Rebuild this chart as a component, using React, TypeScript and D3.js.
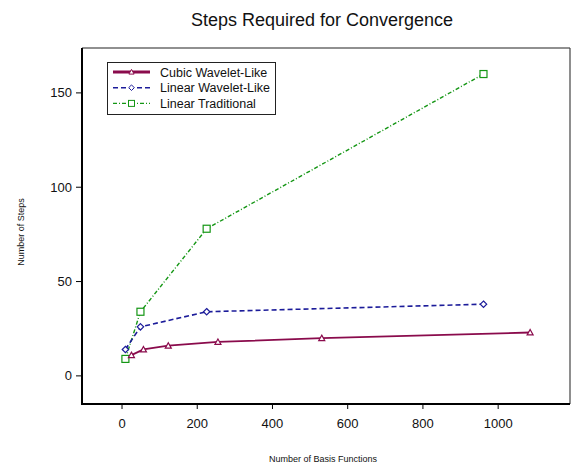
import React from "react";
import * as d3 from "d3";

const cubicX = [25, 57, 123, 255, 531, 1085];
const cubicY = [11, 14, 16, 18, 20, 23];
const linWX = [9, 49, 225, 961];
const linWY = [14, 26, 34, 38];
const tradX = [9, 49, 225, 961];
const tradY = [9, 34, 78, 160];
const xTicks = [0, 200, 400, 600, 800, 1000];
const yTicks = [0, 50, 100, 150];
const seriesNames = ["Cubic Wavelet-Like", "Linear Wavelet-Like", "Linear Traditional"];

const W = 573, H = 466;
const L = 82, R = 570, T = 48, B = 404;

export default function App() {
  const x = d3.scaleLinear().domain([-106.4, 1191]).range([L, R]);
  const y = d3.scaleLinear().domain([-14.9, 173.8]).range([B, T]);
  const line = d3.line<[number, number]>().x(d => x(d[0])).y(d => y(d[1]));
  const cubic = cubicX.map((v, i) => [v, cubicY[i]] as [number, number]);
  const linW = linWX.map((v, i) => [v, linWY[i]] as [number, number]);
  const trad = tradX.map((v, i) => [v, tradY[i]] as [number, number]);
  const cMaroon = "#8a0b4c";
  const cBlue = "#1c1c9a";
  const cGreen = "#149614";
  const font = "Arial, 'Liberation Sans', sans-serif";

  const tri = (cx: number, cy: number, s = 3) =>
    `M${cx},${cy - s}L${cx + s},${cy + s * 0.8}L${cx - s},${cy + s * 0.8}Z`;
  const dia = (cx: number, cy: number, s = 3.2) =>
    `M${cx},${cy - s}L${cx + s},${cy}L${cx},${cy + s}L${cx - s},${cy}Z`;

  const legendRows = [
    { name: seriesNames[0], color: cMaroon, dash: "", width: 3.2, marker: "tri" },
    { name: seriesNames[1], color: cBlue, dash: "5,3", width: 1.5, marker: "dia" },
    { name: seriesNames[2], color: cGreen, dash: "4,2,1,2", width: 1.3, marker: "sq" },
  ];

  return (
    <svg width={W} height={H} style={{ position: "absolute", left: 0, top: 0, background: "#fff" }} fontFamily={font}>
      <rect x={0} y={0} width={W} height={H} fill="#fff" />
      <text x={322} y={26} fontSize={18} textAnchor="middle" fill="#111">Steps Required for Convergence</text>

      {/* frame */}
      <line x1={L} y1={T} x2={R} y2={T} stroke="#222" strokeWidth={1.2} />
      <line x1={R} y1={T} x2={R} y2={B} stroke="#444" strokeWidth={1.2} />
      <line x1={L} y1={T} x2={L} y2={B + 1} stroke="#000" strokeWidth={2} />
      <line x1={L - 1} y1={B} x2={R} y2={B} stroke="#000" strokeWidth={2} />

      {/* x ticks */}
      {xTicks.map(t => (
        <g key={"x" + t}>
          <line x1={x(t)} x2={x(t)} y1={B} y2={B + 5} stroke="#000" strokeWidth={1} />
          <text x={x(t)} y={428} fontSize={13} textAnchor="middle" fill="#111">{t}</text>
        </g>
      ))}
      {yTicks.map(t => (
        <g key={"y" + t}>
          <line x1={L - 6} x2={L} y1={y(t)} y2={y(t)} stroke="#000" strokeWidth={1} />
          <text x={72} y={y(t) + 4.5} fontSize={13} textAnchor="end" fill="#111">{t}</text>
        </g>
      ))}
      <text x={323} y={462} fontSize={9} textAnchor="middle" fill="#111">Number of Basis Functions</text>
      <text transform={`translate(24,232) rotate(-90)`} fontSize={9} textAnchor="middle" fill="#111">Number of Steps</text>

      {/* series */}
      <path d={line(trad) || ""} fill="none" stroke={cGreen} strokeWidth={1.4} strokeDasharray="4,2,1,2" />
      <path d={line(linW) || ""} fill="none" stroke={cBlue} strokeWidth={1.6} strokeDasharray="5,3" />
      <path d={line(cubic) || ""} fill="none" stroke={cMaroon} strokeWidth={1.8} />
      {trad.map((d, i) => (
        <rect key={"s" + i} x={x(d[0]) - 3.5} y={y(d[1]) - 3.5} width={7} height={7} fill="#fff" stroke={cGreen} strokeWidth={1.2} />
      ))}
      {linW.map((d, i) => (
        <path key={"d" + i} d={dia(x(d[0]), y(d[1]))} fill="#fff" stroke={cBlue} strokeWidth={1.2} />
      ))}
      {cubic.map((d, i) => (
        <path key={"t" + i} d={tri(x(d[0]), y(d[1]))} fill="#fff" stroke={cMaroon} strokeWidth={1.2} />
      ))}

      {/* legend */}
      <rect x={107.5} y={62.5} width={168} height={52} fill="#fff" stroke="#222" strokeWidth={1} />
      {legendRows.map((r, i) => {
        const cy = 72 + i * 15.7;
        return (
          <g key={"l" + i}>
            <line x1={113} x2={150} y1={cy} y2={cy} stroke={r.color} strokeWidth={r.width} strokeDasharray={r.dash} />
            {r.marker === "tri" && <path d={tri(131.5, cy, 2.6)} fill="#fff" stroke={r.color} strokeWidth={1} />}
            {r.marker === "dia" && <path d={dia(131.5, cy, 2.8)} fill="#fff" stroke={r.color} strokeWidth={1} />}
            {r.marker === "sq" && <rect x={128.5} y={cy - 3} width={6} height={6} fill="#fff" stroke={r.color} strokeWidth={1} />}
            <text x={160} y={cy + 4.5} fontSize={12.5} fill="#111">{r.name}</text>
          </g>
        );
      })}
    </svg>
  );
}
